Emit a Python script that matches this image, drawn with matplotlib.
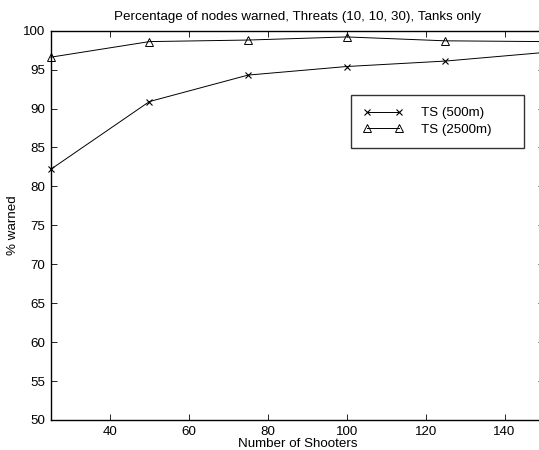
import matplotlib
matplotlib.use("Agg")
import matplotlib.pyplot as plt

shooters = [25, 50, 75, 100, 125, 150]
ts500 = [82.2, 90.9, 94.3, 95.4, 96.1, 97.2]
ts2500 = [96.6, 98.6, 98.8, 99.2, 98.7, 98.6]
xticks = [40, 60, 80, 100, 120, 140]
yticks = [50, 55, 60, 65, 70, 75, 80, 85, 90, 95, 100]

plt.rcParams['font.family'] = ['Liberation Sans', 'DejaVu Sans']
fs = 9.6

fig = plt.figure(figsize=(5.39, 4.5), dpi=100)
left = 50.8 / 539
right = 544 / 539
top = 1 - 30.7 / 450
bottom = 1 - 420 / 450
ax = fig.add_axes([left, bottom, right - left, top - bottom])

ax.plot(shooters, ts500, color='black', lw=0.7, marker='x', ms=3.8, mew=0.8,
        label='TS (500m)', clip_on=False)
ax.plot(shooters, ts2500, color='black', lw=0.7, marker='^', ms=5.5, mew=0.7,
        mfc='none', label='TS (2500m)', clip_on=False)

ax.set_xlim(25, 150)
ax.set_ylim(50, 100)
ax.set_xticks(xticks)
ax.set_yticks(yticks)
ax.tick_params(direction='in', length=4, width=0.6, labelsize=fs, top=True, right=True, pad=4)
for s in ax.spines.values():
    s.set_linewidth(1.0)

ax.set_title('Percentage of nodes warned, Threats (10, 10, 30), Tanks only', fontsize=fs, pad=8)
ax.set_xlabel('Number of Shooters', fontsize=fs, labelpad=0)
ax.set_ylabel('% warned', fontsize=fs, labelpad=3)

x0 = (350.7 - 50.8) / (544 - 50.8)
w = (524 - 350.7) / (544 - 50.8)
ytop = 1 - (95 - 30.7) / (420 - 30.7)
h = (144.3 - 95) / (420 - 30.7)
leg = ax.legend(loc='upper left', bbox_to_anchor=(x0, ytop - h, w, h), mode='expand',
                fontsize=fs, frameon=True, fancybox=False, edgecolor='black',
                numpoints=2, handlelength=3.0, handletextpad=1.4, borderpad=0.9,
                labelspacing=0.3, borderaxespad=0)
leg.get_frame().set_linewidth(1.0)

fig.savefig('out.png', dpi=100)
